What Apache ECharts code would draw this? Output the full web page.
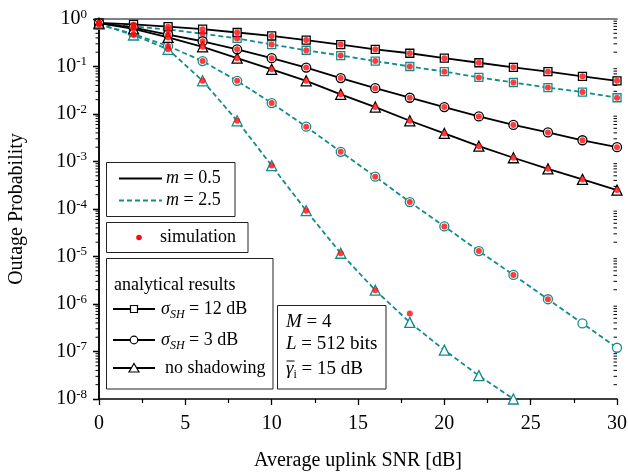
<!DOCTYPE html>
<html>
<head>
<meta charset="utf-8">
<script src="https://cdn.jsdelivr.net/npm/echarts@6/dist/echarts.min.js"></script>
<style>
  html, body { margin: 0; padding: 0; background: #fff; }
  #chart { width: 628px; height: 472px; }
</style>
</head>
<body>
<div id="chart"></div>
<script>
// average uplink SNR [dB]
const snr = [0, 2, 4, 6, 8, 10, 12, 14, 16, 18, 20, 22, 24, 26, 28, 30];

// analytical outage probability, m = 0.5 (solid black)
const m05_sh12 = [0.83, 0.77, 0.69, 0.61, 0.52, 0.44, 0.36, 0.29, 0.23, 0.19, 0.15, 0.12, 0.096, 0.078, 0.062, 0.050];
const m05_sh3  = [0.82, 0.66, 0.47, 0.34, 0.23, 0.15, 0.095, 0.057, 0.035, 0.022, 0.014, 0.0089, 0.0059, 0.0041, 0.0028, 0.0020];
const m05_nosh = [0.82, 0.62, 0.41, 0.26, 0.15, 0.087, 0.050, 0.026, 0.014, 0.0072, 0.0039, 0.0021, 0.0012, 0.0007, 0.00042, 0.00025];

// analytical outage probability, m = 2.5 (dashed teal)
const m25_sh12 = [0.80, 0.70, 0.60, 0.49, 0.39, 0.29, 0.22, 0.17, 0.13, 0.10, 0.078, 0.059, 0.046, 0.036, 0.029, 0.022];
const m25_sh3  = [0.78, 0.48, 0.27, 0.13, 0.050, 0.017, 0.0054, 0.0016, 0.00048, 0.00014, 4.3e-5, 1.3e-5, 4.1e-6, 1.26e-6, 3.9e-7, 1.2e-7];
const m25_nosh = [0.78, 0.46, 0.23, 0.05, 0.0072, 0.00082, 9.2e-5, 1.17e-5, 1.95e-6, 4.1e-7, 1.07e-7, 3.1e-8, 1.0e-8];

// simulation points (red dots)
const sim_m05_sh12 = m05_sh12.slice();
const sim_m05_sh3  = m05_sh3.slice();
const sim_m05_nosh = m05_nosh.slice();
const sim_m25_sh12 = m25_sh12.slice();
const sim_m25_sh3  = m25_sh3.slice(0, 14);
const sim_m25_nosh = m25_nosh.slice(0, 9).concat([6.3e-7]);

// y axis decades
const yMin = 1e-8, yMax = 1;
const minorTicks = [];
for (let e = -8; e < 0; e++) {
  for (let k = 2; k <= 9; k++) minorTicks.push([0, k * Math.pow(10, e)]);
}

const black = '#000000';
const teal = '#138b8d';
const red = '#ff0a0a';
const serif = '"Liberation Serif", "DejaVu Serif", serif';

function pairs(ys) {
  return ys.map((v, i) => [snr[i], v]);
}

function analytic(name, ys, color, symbol, size, dashed) {
  return {
    name: name,
    type: 'line',
    data: pairs(ys),
    symbol: symbol,
    symbolSize: size,
    showSymbol: true,
    z: 3,
    lineStyle: { color: color, width: 1.8, type: dashed ? [5, 3] : 'solid' },
    itemStyle: { color: '#ffffff', borderColor: color, borderWidth: 1.3 }
  };
}

function sim(ys) {
  return {
    type: 'scatter',
    data: pairs(ys),
    symbol: 'circle',
    symbolSize: 6,
    z: 5,
    itemStyle: { color: red }
  };
}

let myChart = echarts.init(document.getElementById('chart'));

let legendLine = (x1, x2, y, dashed) => ({
  type: 'line', z: 101,
  shape: { x1: x1, y1: y, x2: x2, y2: y },
  style: { stroke: dashed ? teal : black, lineWidth: 1.8, lineDash: dashed ? [5, 3] : null }
});

let legendText = (x, y, text, size) => ({
  type: 'text', z: 102,
  style: {
    x: x, y: y, text: text, fill: black,
    fontFamily: serif, fontSize: size || 18,
    verticalAlign: 'middle', align: 'left',
    rich: {
      i: { fontFamily: serif, fontSize: size || 18, fontStyle: 'italic', lineHeight: 24, verticalAlign: 'middle' },
      n: { fontFamily: serif, fontSize: size || 18, lineHeight: 24, verticalAlign: 'middle' },
      sub: { fontFamily: serif, fontSize: 12, fontStyle: 'italic', lineHeight: 24, verticalAlign: 'bottom' },
      subn: { fontFamily: serif, fontSize: 12, lineHeight: 24, verticalAlign: 'bottom' }
    }
  }
});

let boxRect = (x, y, w, h) => ({
  type: 'rect', z: 100,
  shape: { x: x, y: y, width: w, height: h },
  style: { fill: '#ffffff', stroke: '#222', lineWidth: 1 }
});

let openMarker = (kind, cx, cy) => {
  const st = { fill: '#ffffff', stroke: black, lineWidth: 1.2 };
  if (kind === 'rect') return { type: 'rect', z: 102, shape: { x: cx - 3.5, y: cy - 3.5, width: 7, height: 7 }, style: st };
  if (kind === 'circle') return { type: 'circle', z: 102, shape: { cx: cx, cy: cy, r: 3.8 }, style: st };
  return { type: 'polygon', z: 102, shape: { points: [[cx, cy - 4.5], [cx + 5, cy + 4], [cx - 5, cy + 4]] }, style: st };
};

let option = {
  animation: false,
  backgroundColor: '#ffffff',
  grid: { left: 99, right: 11, top: 19, bottom: 73, containLabel: false, outerBoundsMode: 'none' },
  xAxis: [
    {
      type: 'value', min: 0, max: 30, interval: 5,
      name: 'Average uplink SNR [dB]', nameLocation: 'middle', nameGap: 52,
      nameTextStyle: { fontFamily: serif, fontSize: 20, color: black },
      axisLine: { lineStyle: { color: black, width: 1.5 } },
      axisTick: { inside: false, length: 6, lineStyle: { color: black, width: 1.3 } },
      minorTick: { show: true, splitNumber: 2, length: 4, lineStyle: { color: black, width: 1.2 } },
      axisLabel: { fontFamily: serif, fontSize: 20, color: black, margin: 15 },
      splitLine: { show: false }
    },
    {
      type: 'value', min: 0, max: 30, position: 'top',
      axisLine: { lineStyle: { color: '#808080', width: 1.8 } },
      axisTick: { show: false }, axisLabel: { show: false }, splitLine: { show: false }
    }
  ],
  yAxis: [
    {
      type: 'log', logBase: 10, min: yMin, max: yMax, splitNumber: 8,
      name: 'Outage Probability', nameLocation: 'middle', nameGap: 72,
      nameTextStyle: { fontFamily: serif, fontSize: 20, color: black },
      axisLine: { show: true, lineStyle: { color: black, width: 1.5 } },
      axisTick: { show: true, inside: false, length: 6, lineStyle: { color: black, width: 1.3 } },
      axisLabel: {
        margin: 12,
        formatter: v => '{b|10}{s|' + Math.round(Math.log10(v)) + '}',
        rich: {
          b: { fontFamily: serif, fontSize: 20, color: black, lineHeight: 22, verticalAlign: 'middle' },
          s: { fontFamily: serif, fontSize: 13, color: black, lineHeight: 22, verticalAlign: 'top' }
        }
      },
      splitLine: { show: false }
    },
    {
      type: 'log', logBase: 10, min: yMin, max: yMax, splitNumber: 8, position: 'right',
      axisLine: { show: true, lineStyle: { color: black, width: 1.5 } },
      axisTick: { show: true, inside: true, length: 6, lineStyle: { color: black, width: 1.3 } },
      axisLabel: { show: false },
      splitLine: { show: false }
    }
  ],
  series: [
    {
      type: 'custom',
      data: minorTicks,
      clip: false,
      silent: true,
      z: 1,
      renderItem: (params, api) => {
        const v = api.value(1);
        const l = api.coord([0, v]);
        const r = api.coord([30, v]);
        return {
          type: 'group',
          children: [
            { type: 'line', shape: { x1: l[0] - 3.5, y1: l[1], x2: l[0], y2: l[1] }, style: { stroke: black, lineWidth: 1 } },
            { type: 'line', shape: { x1: r[0] - 3.5, y1: r[1], x2: r[0], y2: r[1] }, style: { stroke: black, lineWidth: 1 } }
          ]
        };
      }
    },
    analytic('m=2.5, sigma=12 dB', m25_sh12, teal, 'rect', 8, true),
    analytic('m=2.5, sigma=3 dB', m25_sh3, teal, 'circle', 9, true),
    analytic('m=2.5, no shadowing', m25_nosh, teal, 'triangle', 10, true),
    analytic('m=0.5, sigma=12 dB', m05_sh12, black, 'rect', 8, false),
    analytic('m=0.5, sigma=3 dB', m05_sh3, black, 'circle', 9, false),
    analytic('m=0.5, no shadowing', m05_nosh, black, 'triangle', 10, false),
    sim(sim_m05_sh12), sim(sim_m05_sh3), sim(sim_m05_nosh),
    sim(sim_m25_sh12), sim(sim_m25_sh3), sim(sim_m25_nosh)
  ],
  graphic: [
    // fading parameter legend
    boxRect(106.5, 162.5, 128.5, 54),
    legendLine(119, 162, 178.5, false),
    legendText(166, 178.5, '{i|m}{n| = 0.5}'),
    legendLine(119, 162, 200.5, true),
    legendText(166, 200.5, '{i|m}{n| = 2.5}'),
    // simulation legend
    boxRect(106.5, 222.5, 141.5, 30),
    { type: 'circle', z: 102, shape: { cx: 139, cy: 237.5, r: 2.8 }, style: { fill: red } },
    legendText(160, 237.5, 'simulation'),
    // analytical legend
    boxRect(106.5, 258.5, 166.5, 130.5),
    legendText(114, 285, 'analytical results'),
    legendLine(113, 155, 309, false), openMarker('rect', 134, 309),
    legendText(161, 309, '{i|σ}{sub|SH}{n| = 12 dB}'),
    legendLine(113, 155, 340, false), openMarker('circle', 134, 340),
    legendText(161, 340, '{i|σ}{sub|SH}{n| = 3 dB}'),
    legendLine(113, 155, 368, false), openMarker('triangle', 134, 368),
    legendText(165, 368, 'no shadowing'),
    // parameters
    boxRect(277.5, 305.5, 108.5, 83.5),
    legendText(286, 322, '{i|M}{n| = 4}', 19),
    legendText(286, 344, '{i|L}{n| = 512 bits}', 19),
    legendText(286, 369, '{i|γ}{subn|i}{n| = 15 dB}', 19),
    { type: 'line', z: 103, shape: { x1: 286.5, y1: 361, x2: 294.5, y2: 361 }, style: { stroke: black, lineWidth: 1 } }
  ]
};

myChart.setOption(option);
</script>
</body>
</html>
